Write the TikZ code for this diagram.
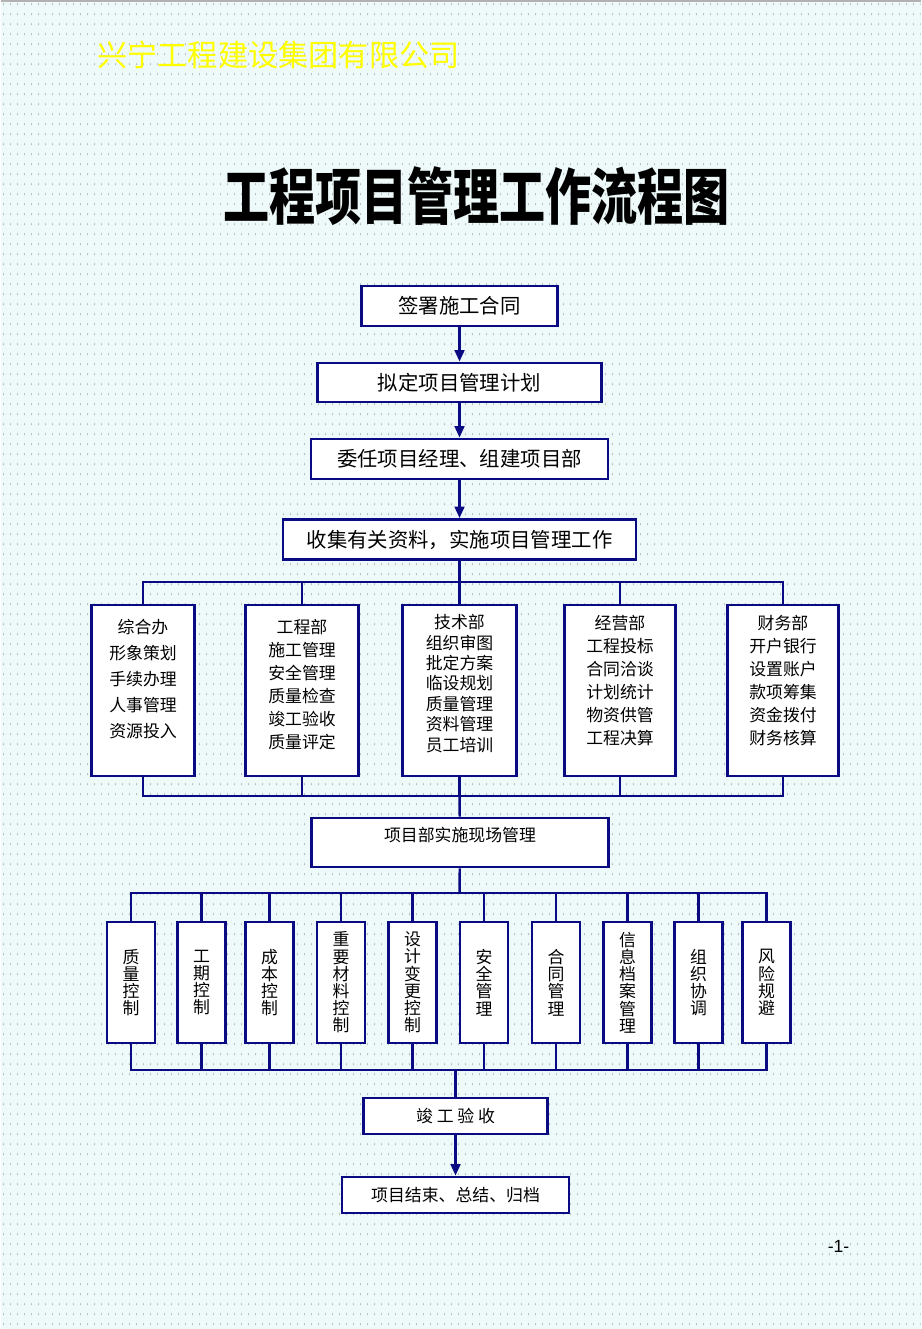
\documentclass[tikz,border=0pt]{standalone}
\usepackage{fontspec}
\setmainfont{Noto Sans CJK SC}
\newfontfamily\numfont{Liberation Sans}
\usepackage{graphicx}
\usepackage{tikz}
\usetikzlibrary{arrows.meta,patterns.meta}
\definecolor{LineNavy}{HTML}{0A0A82}
\definecolor{PageCyan}{HTML}{EEF9F9}
\definecolor{DotGray}{HTML}{B4BEBE}
\definecolor{CoYellow}{HTML}{FFFF00}
\tikzdeclarepattern{
  name=bgdots, type=uncolored,
  bottom left={(0pt,0pt)}, top right={(3.97pt,5.67pt)},
  tile size={(3.97pt,5.67pt)},
  code={\tikzset{x=1pt,y=1pt}\fill (2,2.8) ellipse [x radius=0.35, y radius=0.7];}
}

\begin{document}
\begin{tikzpicture}[x=0.2mm, y=-0.2mm,
  box/.style={draw=LineNavy, fill=white, line width=1.6pt, inner sep=0pt, minimum height=8mm,
              align=center, font=\fontsize{11.6}{14}\selectfont},
  dept/.style={box, minimum height=34.2mm},
  dtxt/.style={inner sep=0pt, align=center},
  sm/.style={box, minimum width=9.6mm, minimum height=24.2mm, font=\fontsize{9.6}{9.8}\selectfont},
  lo/.style={box, minimum height=7.2mm, font=\fontsize{9.6}{12}\selectfont},
  ar/.style={-{Triangle[length=6.5pt,width=5.5pt]}, line width=1.4pt, LineNavy},
  ln/.style={line width=1.4pt, LineNavy}]
% page
\fill[PageCyan] (0,0) rectangle (920,1329);
\fill[pattern=bgdots, pattern color=DotGray] (0,0) rectangle (920,1329);
\draw[gray!60, line width=0.6pt] (0,1) -- (920,1);
\useasboundingbox (0,0) rectangle (920,1329);

\node[text=CoYellow, font=\fontsize{17.2}{20}\selectfont] (gs) at (278,55) {兴宁工程建设集团有限公司};
\node[font=\fontsize{28.5}{32}\selectfont\bfseries] (tt) at (476,196) {\scalebox{0.92}[1.22]{工程项目管理工作流程图}};

% main chain
\node[box, minimum width=39.2mm] (qs) at (459,306) {签署施工合同};
\node[box, minimum width=56.8mm, minimum height=7.8mm] (nd) at (459,382.5) {拟定项目管理计划};
\node[box, minimum width=59.4mm] (wr) at (459,459) {委任项目经理、组建项目部};
\node[box, minimum width=70.6mm] (sj) at (459,539.5) {收集有关资料，实施项目管理工作};
\draw[ar] (qs) -- (nd); \draw[ar] (nd) -- (wr); \draw[ar] (wr) -- (sj);

% departments
\coordinate (b1) at (459,582);
\coordinate (b2) at (459,796);
\node[dept, minimum width=20.6mm] (zh) at (142.5,690.5) {};
\node[dept, minimum width=22.6mm] (gc) at (301.5,690.5) {};
\node[dept, minimum width=22.8mm] (js) at (459,690.5) {};
\node[dept, minimum width=22.2mm] (jy) at (619.5,690.5) {};
\node[dept, minimum width=22.2mm] (cw) at (782.5,690.5) {};
\node[dtxt, font=\fontsize{9.6}{14.7}\selectfont] (zht) at (142.5,679) {综合办\\形象策划\\手续办理\\人事管理\\资源投入};
\node[dtxt, font=\fontsize{9.6}{13}\selectfont] (gct) at (301.5,684.5) {工程部\\施工管理\\安全管理\\质量检查\\竣工验收\\质量评定};
\node[dtxt, font=\fontsize{9.6}{11.6}\selectfont] (jst) at (459,683.5) {技术部\\组织审图\\批定方案\\临设规划\\质量管理\\资料管理\\员工培训};
\node[dtxt, font=\fontsize{9.6}{13}\selectfont] (jyt) at (619.5,680.5) {经营部\\工程投标\\合同洽谈\\计划统计\\物资供管\\工程决算};
\node[dtxt, font=\fontsize{9.6}{13}\selectfont] (cwt) at (782.5,680.5) {财务部\\开户银行\\设置账户\\款项筹集\\资金拨付\\财务核算};
\draw[ln] (sj) -- (b1);
\draw[ln] (b1) -| (zh.north); \draw[ln] (b1) -| (gc.north); \draw[ln] (b1) -- (js);
\draw[ln] (b1) -| (jy.north); \draw[ln] (b1) -| (cw.north);
\draw[ln] (zh.south) |- (b2); \draw[ln] (gc.south) |- (b2); \draw[ln] (js) -- (b2);
\draw[ln] (jy.south) |- (b2); \draw[ln] (cw.south) |- (b2);

% site management
\node[box, minimum width=59.4mm, minimum height=9.8mm] (xm) at (459.5,842.5) {};
\node[dtxt, font=\fontsize{9.6}{12}\selectfont] (xmt) at (459.5,835) {项目部实施现场管理};
\draw[ln] (b2) -- (xm);

\coordinate (b3) at (459,893);
\coordinate (b4) at (455,1070);
\node[sm] (zl) at (130.5,982.5) {质\\量\\控\\制};
\node[sm] (gq) at (201,982.5) {工\\期\\控\\制};
\node[sm] (cb) at (269,982.5) {成\\本\\控\\制};
\node[sm] (cl) at (340.5,982.5) {重\\要\\材\\料\\控\\制};
\node[sm] (bg) at (412,982.5) {设\\计\\变\\更\\控\\制};
\node[sm] (aq) at (483.5,982.5) {安\\全\\管\\理};
\node[sm] (ht) at (555.5,982.5) {合\\同\\管\\理};
\node[sm] (da) at (627,982.5) {信\\息\\档\\案\\管\\理};
\node[sm] (xt) at (698,982.5) {组\\织\\协\\调};
\node[sm] (fx) at (766,982.5) {风\\险\\规\\避};
\draw[ln] (xm) -- (b3);
\draw[ln] (b3) -| (zl.north); \draw[ln] (b3) -| (gq.north); \draw[ln] (b3) -| (cb.north);
\draw[ln] (b3) -| (cl.north); \draw[ln] (b3) -| (bg.north); \draw[ln] (b3) -| (aq.north);
\draw[ln] (b3) -| (ht.north); \draw[ln] (b3) -| (da.north); \draw[ln] (b3) -| (xt.north);
\draw[ln] (b3) -| (fx.north);
\draw[ln] (zl.south) |- (b4); \draw[ln] (gq.south) |- (b4); \draw[ln] (cb.south) |- (b4);
\draw[ln] (cl.south) |- (b4); \draw[ln] (bg.south) |- (b4); \draw[ln] (aq.south) |- (b4);
\draw[ln] (ht.south) |- (b4); \draw[ln] (da.south) |- (b4); \draw[ln] (xt.south) |- (b4);
\draw[ln] (fx.south) |- (b4);

% completion
\node[lo, minimum width=36.8mm] (ys) at (455,1116) {竣 工 验 收};
\node[lo, minimum width=45.4mm] (jd) at (455,1195) {项目结束、总结、归档};
\draw[ln] (b4) -- (ys);
\draw[ar] (ys) -- (jd);

\node[font=\numfont\fontsize{10}{12}\selectfont] (pn) at (838,1246) {-1-};
\end{tikzpicture}
\end{document}
